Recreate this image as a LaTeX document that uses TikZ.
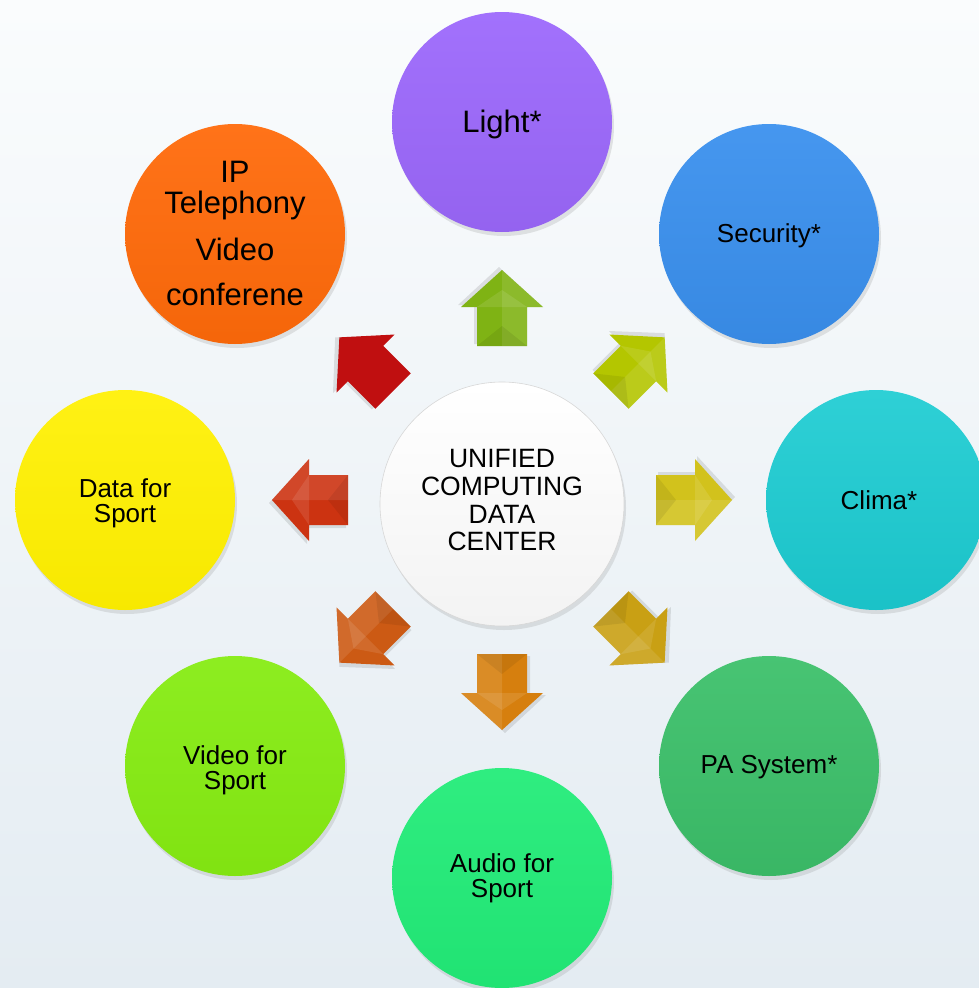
\documentclass[tikz,border=0pt]{standalone}
\usepackage{fontspec}
\setmainfont{Liberation Sans}
\usetikzlibrary{shadows}
\definecolor{cLight}{HTML}{9C68FC}
\definecolor{cSec}{HTML}{3A90EE}
\definecolor{cClima}{HTML}{1CCCD2}
\definecolor{cPA}{HTML}{3CC06A}
\definecolor{cAudio}{HTML}{22EC78}
\definecolor{cVideo}{HTML}{86EC12}
\definecolor{cData}{HTML}{FFF000}
\definecolor{cIP}{HTML}{FF6A0A}
\definecolor{aN}{HTML}{7FB314}
\definecolor{aNE}{HTML}{B4C600}
\definecolor{aE}{HTML}{D2C21C}
\definecolor{aSE}{HTML}{C9A014}
\definecolor{aS}{HTML}{D67F0E}
\definecolor{aSW}{HTML}{CC5A14}
\definecolor{aW}{HTML}{CC3311}
\definecolor{aNW}{HTML}{C00F10}
\tikzset{
  bubble/.style={circle, draw=none, inner sep=0pt, minimum size=220pt,
    drop shadow={opacity=0.2, shadow xshift=2pt, shadow yshift=-4pt}},
  smalltext/.style={anchor=base, inner sep=0pt, font=\fontsize{26}{25}\selectfont},
  bigtext/.style={anchor=base, inner sep=0pt, font=\fontsize{31}{32}\selectfont},
  ctext/.style={anchor=base, inner sep=0pt, font=\fontsize{26.5}{27.7}\selectfont},
}
\newcommand{\blockarrow}[3]{%
  \begin{scope}[shift={(502,500)}, rotate=#1]
    \fill[black, opacity=0.10] (156,-28) -- (195,-28) -- (195,-44) -- (233,-3) -- (195,38) -- (195,22) -- (156,22) -- cycle;
    \fill[#2] (154,-25) -- (193,-25) -- (193,-41) -- (230,0) -- (193,41) -- (193,25) -- (154,25) -- cycle;
    \ifnum#3=1
    \fill[white, opacity=0.10] (154,0) -- (230,0) -- (193,41) -- (193,25) -- (154,25) -- cycle;
    \fill[black, opacity=0.07] (154,-25) -- (174,0) -- (154,25) -- cycle;
    \fill[white, opacity=0.10] (193,-25) -- (210,0) -- (193,25) -- cycle;
    \fi
  \end{scope}}
\begin{document}
\begin{tikzpicture}[x=1pt, y=-1pt]
  \useasboundingbox (0,0) rectangle (979,988);
  \shade[top color={rgb,255:red,250;green,252;blue,253}, bottom color={rgb,255:red,228;green,236;blue,242}] (0,0) rectangle (979,988);

  % arrows
  \blockarrow{90}{aN}{1}
  \blockarrow{45}{aNE}{1}
  \blockarrow{0}{aE}{1}
  \blockarrow{-45}{aSE}{1}
  \blockarrow{-90}{aS}{1}
  \blockarrow{-135}{aSW}{1}
  \blockarrow{180}{aW}{1}
  \blockarrow{135}{aNW}{0}

  % center
  \node[bubble, minimum size=244pt, draw={rgb,255:red,215;green,215;blue,215}, line width=0.6pt,
        top color=white, bottom color={rgb,255:red,243;green,243;blue,243}] (center) at (502,504) {};
  \node[ctext] (c1) at (502,467) {UNIFIED};
  \node[ctext] (c2) at (502,495) {COMPUTING};
  \node[ctext] (c3) at (502,523) {DATA};
  \node[ctext] (c4) at (502,550) {CENTER};

  % outer circles
  \node[bubble, top color=cLight!94!white, bottom color=cLight!95!black] (light) at (502,122) {};
  \node[bubble, top color=cSec!94!white, bottom color=cSec!95!black] (security) at (769,234) {};
  \node[bubble, top color=cClima!92!white, bottom color=cClima!95!black] (clima) at (876,500) {};
  \node[bubble, top color=cPA!94!white, bottom color=cPA!95!black] (pa) at (769,766) {};
  \node[bubble, top color=cAudio!94!white, bottom color=cAudio!96!black] (audio) at (502,878) {};
  \node[bubble, top color=cVideo!94!white, bottom color=cVideo!96!black] (video) at (235,766) {};
  \node[bubble, top color=cData!92!white, bottom color=cData!97!black] (data) at (125,500) {};
  \node[bubble, top color=cIP!94!white, bottom color=cIP!96!black] (ip) at (235,234) {};

  % labels
  \node[bigtext] (light-t) at (502,132) {Light*};
  \node[smalltext] (security-t) at (769,242) {Security*};
  \node[smalltext] (clima-t) at (879,509) {Clima*};
  \node[smalltext] (pa-t) at (769,773) {PA System*};
  \node[smalltext] (audio-t1) at (502,872) {Audio for};
  \node[smalltext] (audio-t2) at (502,897) {Sport};
  \node[smalltext] (video-t1) at (235,764) {Video for};
  \node[smalltext] (video-t2) at (235,789) {Sport};
  \node[smalltext] (data-t1) at (125,497) {Data for};
  \node[smalltext] (data-t2) at (125,522) {Sport};
  \node[bigtext] (ip1) at (235,182) {IP};
  \node[bigtext] (ip2) at (235,213) {Telephony};
  \node[bigtext] (ip3) at (235,260) {Video};
  \node[bigtext] (ip4) at (235,305) {conferene};
\end{tikzpicture}
\end{document}
